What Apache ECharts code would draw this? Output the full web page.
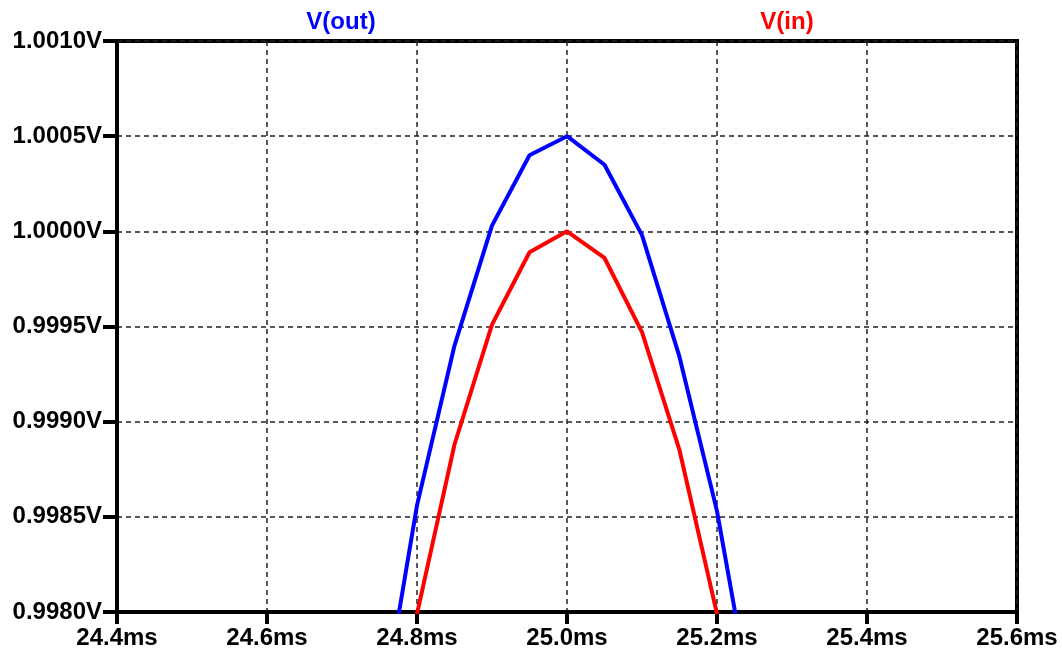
<!DOCTYPE html>
<html>
<head>
<meta charset="utf-8">
<script src="https://cdn.jsdelivr.net/npm/echarts@6/dist/echarts.min.js"></script>
<style>
html,body{margin:0;padding:0;background:#fff;}
#c{width:1062px;height:659px;}
</style>
</head>
<body>
<div id="c"></div>
<script>
// time points (ms)
const timeMs = [24.75, 24.80, 24.85, 24.90, 24.95, 25.00, 25.05, 25.10, 25.15, 25.20, 25.25];
// V(out) values (V)
const vOut = [0.99739, 0.99856, 0.99940, 1.00003, 1.00040, 1.00050, 1.00035, 0.99998, 0.99934, 0.99853, 0.99743];
// V(in) values (V)
const vIn = [0.99685, 0.99799, 0.99888, 0.99951, 0.99989, 1.00000, 0.99986, 0.99947, 0.99885, 0.99799, 0.99685];
const seriesNames = ['V(out)', 'V(in)'];
const seriesColors = ['#0000ff', '#ff0000'];

const FONT = 'Liberation Sans';
const FS = 24;
const chart = echarts.init(document.getElementById('c'), null, {renderer: 'canvas'});

function pairs(xs, ys){ return xs.map((x,i)=>[x, ys[i]]); }

chart.setOption({
  animation: false,
  backgroundColor: '#ffffff',
  grid: {left: 117, right: 45, top: 41, bottom: 47, show: true, borderColor: '#000', borderWidth: 4, backgroundColor: 'transparent'},
  graphic: [
    {type: 'text', x: 341, y: 22, style: {text: seriesNames[0], fill: seriesColors[0], font: 'bold ' + FS + 'px ' + FONT, textAlign: 'center', textVerticalAlign: 'middle'}},
    {type: 'text', x: 787, y: 22, style: {text: seriesNames[1], fill: seriesColors[1], font: 'bold ' + FS + 'px ' + FONT, textAlign: 'center', textVerticalAlign: 'middle'}}
  ],
  xAxis: {
    type: 'value', min: 24.4, max: 25.6, interval: 0.2,
    axisLine: {show: true, onZero: false, lineStyle: {color: '#000', width: 4}},
    axisTick: {show: true, length: 12, lineStyle: {color: '#000', width: 4}},
    axisLabel: {margin: 14, color: '#000', fontFamily: FONT, fontWeight: 'bold', fontSize: FS,
      formatter: v => v.toFixed(1) + 'ms'},
    splitLine: {show: true, lineStyle: {color: '#222', width: 1.5, type: [5, 4]}}
  },
  yAxis: {
    type: 'value', min: 0.998, max: 1.001, interval: 0.0005,
    axisLine: {show: true, lineStyle: {color: '#000', width: 4}},
    axisTick: {show: true, length: 14, lineStyle: {color: '#000', width: 4}},
    axisLabel: {margin: 15, color: '#000', fontFamily: FONT, fontWeight: 'bold', fontSize: FS,
      formatter: v => v.toFixed(4) + 'V'},
    splitLine: {show: true, lineStyle: {color: '#222', width: 1.5, type: [5, 4]}}
  },
  series: [
    {name: seriesNames[0], type: 'line', data: pairs(timeMs, vOut), showSymbol: false, clip: true,
      lineStyle: {color: seriesColors[0], width: 4}, itemStyle: {color: seriesColors[0]}},
    {name: seriesNames[1], type: 'line', data: pairs(timeMs, vIn), showSymbol: false, clip: true,
      lineStyle: {color: seriesColors[1], width: 4}, itemStyle: {color: seriesColors[1]}}
  ]
});
</script>
</body>
</html>
